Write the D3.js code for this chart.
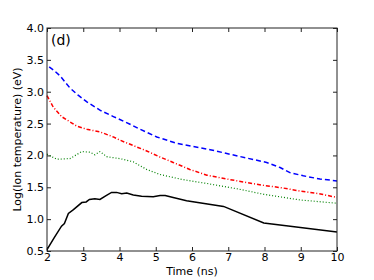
<!DOCTYPE html>
<meta charset="utf-8">
<title>Ion temperature (d)</title>
<style>
    body { margin: 0; background: #fff; }
    text { font-family: "DejaVu Sans", sans-serif; fill: #000; }
    .tick line { stroke: #222; }
    .frame { fill: none; stroke: #222; stroke-width: 1; }
</style>
<body>
</body>
<script src="https://d3js.org/d3.v7.min.js"></script>
<script>
    const width = 374, height = 280;

    // black solid
    const blackT = [2.0, 2.2, 2.4, 2.48, 2.59, 2.73, 2.96, 3.08, 3.17, 3.32, 3.46, 3.63, 3.78, 3.92, 4.06, 4.2, 4.38, 4.61, 4.93, 5.12, 5.26, 5.48, 5.85, 6.87, 7.98, 8.99, 10];
    const blackV = [0.52, 0.71, 0.89, 0.93, 1.09, 1.15, 1.26, 1.27, 1.31, 1.32, 1.31, 1.37, 1.42, 1.42, 1.40, 1.41, 1.38, 1.36, 1.35, 1.37, 1.37, 1.34, 1.29, 1.20, 0.94, 0.87, 0.80];
    // blue dashed
    const blueT = [2.06, 2.2, 2.36, 2.63, 2.85, 3.1, 3.46, 3.83, 4.29, 4.57, 5.03, 5.58, 6.04, 6.5, 6.96, 7.5, 8.06, 8.43, 8.7, 9.07, 9.53, 10];
    const blueV = [3.39, 3.33, 3.25, 3.06, 2.95, 2.84, 2.71, 2.61, 2.49, 2.41, 2.29, 2.19, 2.14, 2.09, 2.03, 1.96, 1.89, 1.81, 1.73, 1.68, 1.63, 1.60];
    // red dash-dot
    const redT = [2.0, 2.17, 2.4, 2.82, 3.1, 3.46, 3.83, 4.01, 4.4, 4.75, 5.1, 5.48, 5.94, 6.41, 6.96, 7.45, 7.98, 8.5, 8.99, 9.5, 10];
    const redV = [2.94, 2.76, 2.61, 2.46, 2.41, 2.37, 2.29, 2.24, 2.15, 2.07, 1.98, 1.89, 1.78, 1.69, 1.63, 1.58, 1.53, 1.49, 1.44, 1.40, 1.34];
    // green dotted
    const greenT = [2.0, 2.27, 2.63, 2.96, 3.19, 3.32, 3.46, 3.65, 4.01, 4.38, 4.75, 5.12, 5.67, 5.86, 6.41, 7.3, 7.98, 8.99, 10];
    const greenV = [2.02, 1.94, 1.95, 2.06, 2.05, 2.01, 2.06, 1.98, 1.95, 1.90, 1.78, 1.70, 1.63, 1.61, 1.56, 1.47, 1.39, 1.30, 1.25];

    const xTicks = [2, 3, 4, 5, 6, 7, 8, 9, 10];
    const yTicks = [0.5, 1.0, 1.5, 2.0, 2.5, 3.0, 3.5, 4.0];

    const series = [
        {t: greenT, v: greenV, color: "green", dash: "1,2", w: 1.2},
        {t: redT, v: redV, color: "red", dash: "4,2,1,2", w: 1.5},
        {t: blueT, v: blueV, color: "blue", dash: "5,3", w: 1.5},
        {t: blackT, v: blackV, color: "black", dash: null, w: 1.5}
    ];

    const margin = {left: 47, right: 37, top: 28, bottom: 29};
    const iw = width - margin.left - margin.right;
    const ih = height - margin.top - margin.bottom;

    const x = d3.scaleLinear().domain([2, 10]).range([0, iw]);
    const y = d3.scaleLinear().domain([0.5, 4.0]).range([ih, 0]);

    const svg = d3.select("body").append("svg")
        .attr("width", width).attr("height", height);

    const g = svg.append("g").attr("transform", `translate(${margin.left},${margin.top})`);

    const fmt = d3.format(".1f");

    // bottom / left axes with inward ticks
    g.append("g").attr("transform", `translate(0,${ih})`)
        .call(d3.axisBottom(x).tickValues(xTicks).tickFormat(d3.format("d")).tickSizeInner(-4).tickSizeOuter(0).tickPadding(2))
        .call(a => a.select(".domain").remove())
        .selectAll("text").style("font-size", "11px");
    g.append("g")
        .call(d3.axisLeft(y).tickValues(yTicks).tickFormat(fmt).tickSizeInner(-4).tickSizeOuter(0).tickPadding(3))
        .call(a => a.select(".domain").remove())
        .selectAll("text").style("font-size", "11px");
    // top / right ticks, no labels
    g.append("g")
        .call(d3.axisTop(x).tickValues(xTicks).tickFormat("").tickSizeInner(-4).tickSizeOuter(0))
        .call(a => a.select(".domain").remove());
    g.append("g").attr("transform", `translate(${iw},0)`)
        .call(d3.axisRight(y).tickValues(yTicks).tickFormat("").tickSizeInner(-4).tickSizeOuter(0))
        .call(a => a.select(".domain").remove());

    const line = d3.line().x(d => x(d[0])).y(d => y(d[1]));

    g.append("g").selectAll("path")
        .data(series)
        .join("path")
        .attr("d", s => line(s.t.map((t, i) => [t, s.v[i]])))
        .attr("fill", "none")
        .attr("stroke", s => s.color)
        .attr("stroke-width", s => s.w)
        .attr("stroke-dasharray", s => s.dash);

    g.append("rect").attr("class", "frame")
        .attr("x", 0).attr("y", 0).attr("width", iw).attr("height", ih);

    g.append("text").attr("x", 4).attr("y", 17)
        .style("font-size", "14px").text("(d)");

    svg.append("text")
        .attr("x", margin.left + iw / 2).attr("y", height - 5)
        .attr("text-anchor", "middle").style("font-size", "11px")
        .text("Time (ns)");

    svg.append("text")
        .attr("transform", `translate(21,${margin.top + ih / 2}) rotate(-90)`)
        .attr("text-anchor", "middle").style("font-size", "11px")
        .text("Log(Ion temperature) (eV)");
</script>
